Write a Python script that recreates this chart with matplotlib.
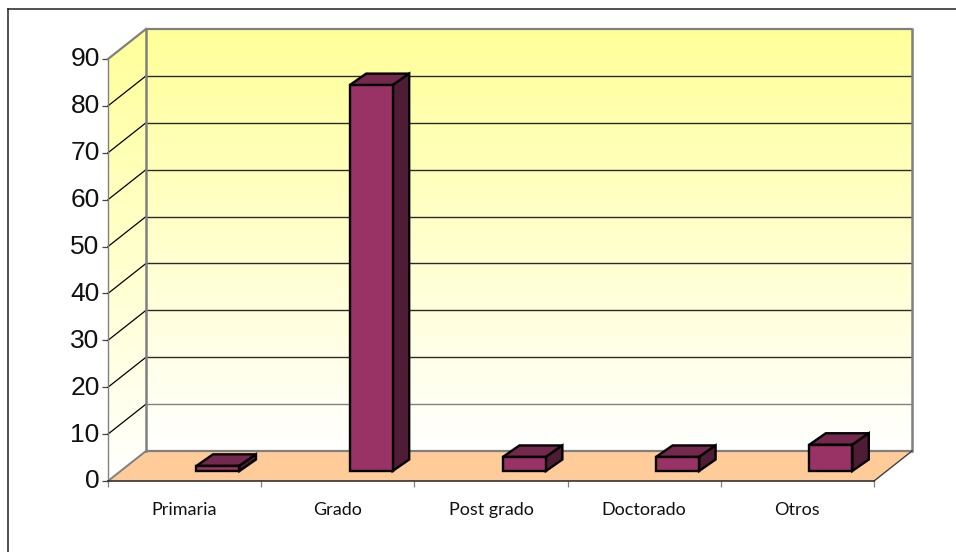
import numpy as np
import matplotlib
matplotlib.use('Agg')
import matplotlib.pyplot as plt
from matplotlib.lines import Line2D
from matplotlib.patches import Polygon
from matplotlib.transforms import ScaledTranslation

categories = ['Primaria', 'Grado', 'Post grado', 'Doctorado', 'Otros']
values = [1.1, 82.3, 3, 3, 5.6]
y_ticks = [0, 10, 20, 30, 40, 50, 60, 70, 80, 90]

W, H = 956, 552
fig = plt.figure(figsize=(W / 100, H / 100), dpi=100)
ax = fig.add_axes([108 / W, 1 - 481 / H, 766 / W, 422 / H])
ax.set_xlim(0, 5)
ax.set_ylim(0, 90)
ax.patch.set_visible(False)
for s in ax.spines.values():
    s.set_visible(False)

# px to data units, used for the fake 3d depth
ux = 5 / 766
uy = 90 / 422
wall_dx = 38 * ux
wall_dy = 30 * uy
bar_dx = 16.5 * ux
bar_dy = 11.5 * uy
bar_w = 43 * ux
bar_shift = 0.718
bar_base = 10 * uy

grey = '#808080'
top = max(y_ticks)
right = len(categories)


def poly(pts, fc, ec='none', lw=0, z=1):
    p = Polygon(pts, closed=True, facecolor=fc, edgecolor=ec, linewidth=lw,
                zorder=z, clip_on=False, joinstyle='miter')
    ax.add_patch(p)
    return p


def gradient(pts, z=1):
    grad = np.ones((256, 1, 3))
    grad[:, 0, 2] = np.linspace(0.6, 1.0, 256)
    ys = [p[1] for p in pts]
    xs = [p[0] for p in pts]
    im = ax.imshow(grad, extent=[min(xs), max(xs), min(ys), max(ys)], origin='upper',
                   aspect='auto', zorder=z)
    # walls stick out of the axes box
    im.set_clip_box(fig.bbox)
    im.set_clip_path(Polygon(pts, closed=True, transform=ax.transData))


# walls
back = [(wall_dx, wall_dy), (right + wall_dx, wall_dy), (right + wall_dx, top + wall_dy), (wall_dx, top + wall_dy)]
side = [(0, 0), (wall_dx, wall_dy), (wall_dx, top + wall_dy), (0, top)]
gradient(back)
gradient(side)
ax.set_xlim(0, 5)
ax.set_ylim(0, 90)

# floor
poly([(0, 0), (right, 0), (right + wall_dx, wall_dy), (wall_dx, wall_dy)], '#ffcc99', z=2)

# gridlines
for v in y_ticks:
    edge = v in (0, top)
    ax.plot([wall_dx, right + wall_dx], [v + wall_dy] * 2, color=grey if edge or v == 10 else '#2a2a2a',
            lw=1.6 if edge else 1.0, zorder=3, clip_on=False, solid_capstyle='butt')
    if v > 0:
        ax.plot([0, wall_dx], [v, v + wall_dy], color=grey if v == top else 'black',
                lw=1.6 if v == top else 0.9, zorder=3, clip_on=False)

ax.plot([wall_dx, wall_dx], [wall_dy, top + wall_dy], color=grey, lw=1.8, zorder=3, clip_on=False)
ax.plot([right + wall_dx] * 2, [wall_dy, top + wall_dy], color=grey, lw=1.8, zorder=3, clip_on=False)
ax.plot([0, 0], [0, top], color=grey, lw=1.0, zorder=3, clip_on=False)
ax.plot([0, wall_dx], [0, wall_dy], color=grey, lw=1.4, zorder=3, clip_on=False)
ax.plot([right, right + wall_dx], [0, wall_dy], color='#404040', lw=1.0, zorder=3, clip_on=False)
ax.plot([0, right], [0, 0], color='#222222', lw=1.1, zorder=3, clip_on=False)

# bars
for i, v in enumerate(values):
    x0 = i + bar_shift - bar_w / 2
    x1 = x0 + bar_w
    y0 = bar_base
    y1 = bar_base + v
    poly([(x0, y1), (x1, y1), (x1 + bar_dx, y1 + bar_dy), (x0 + bar_dx, y1 + bar_dy)],
         '#74284e', 'black', 1.7, 5)
    poly([(x1, y0), (x1 + bar_dx, y0 + bar_dy), (x1 + bar_dx, y1 + bar_dy), (x1, y1)],
         '#4e1c35', 'black', 1.7, 5)
    poly([(x0, y0), (x1, y0), (x1, y1), (x0, y1)], '#993366', 'black', 1.7, 6)

# ticks and labels
ax.set_yticks(y_ticks)
ax.set_yticklabels([str(v) for v in y_ticks], fontfamily='Liberation Sans', fontsize=19, color='#111111')
ax.tick_params(axis='y', length=4, width=0.9, color='#444444', pad=2)
up = ScaledTranslation(0, 2 / 100, fig.dpi_scale_trans)
for lab in ax.get_yticklabels():
    lab.set_transform(lab.get_transform() + up)
ax.set_xticks(range(right + 1))
ax.set_xticklabels([])
ax.tick_params(axis='x', which='major', length=4, width=0.9, color=grey)
ax.set_xticks([i + 0.5 for i in range(right)], minor=True)
ax.set_xticklabels(categories, minor=True, fontfamily='Lato', fontsize=13, color='#111111')
ax.tick_params(axis='x', which='minor', length=0, pad=15)

# chart frame, only top and left show in the picture
fig.add_artist(Line2D([8 / W, 8 / W], [0, 1 - 9 / H], color='#222222', lw=1.1))
fig.add_artist(Line2D([8 / W, 1], [1 - 9 / H, 1 - 9 / H], color='#222222', lw=1.1))

fig.savefig('out.png', dpi=100)
